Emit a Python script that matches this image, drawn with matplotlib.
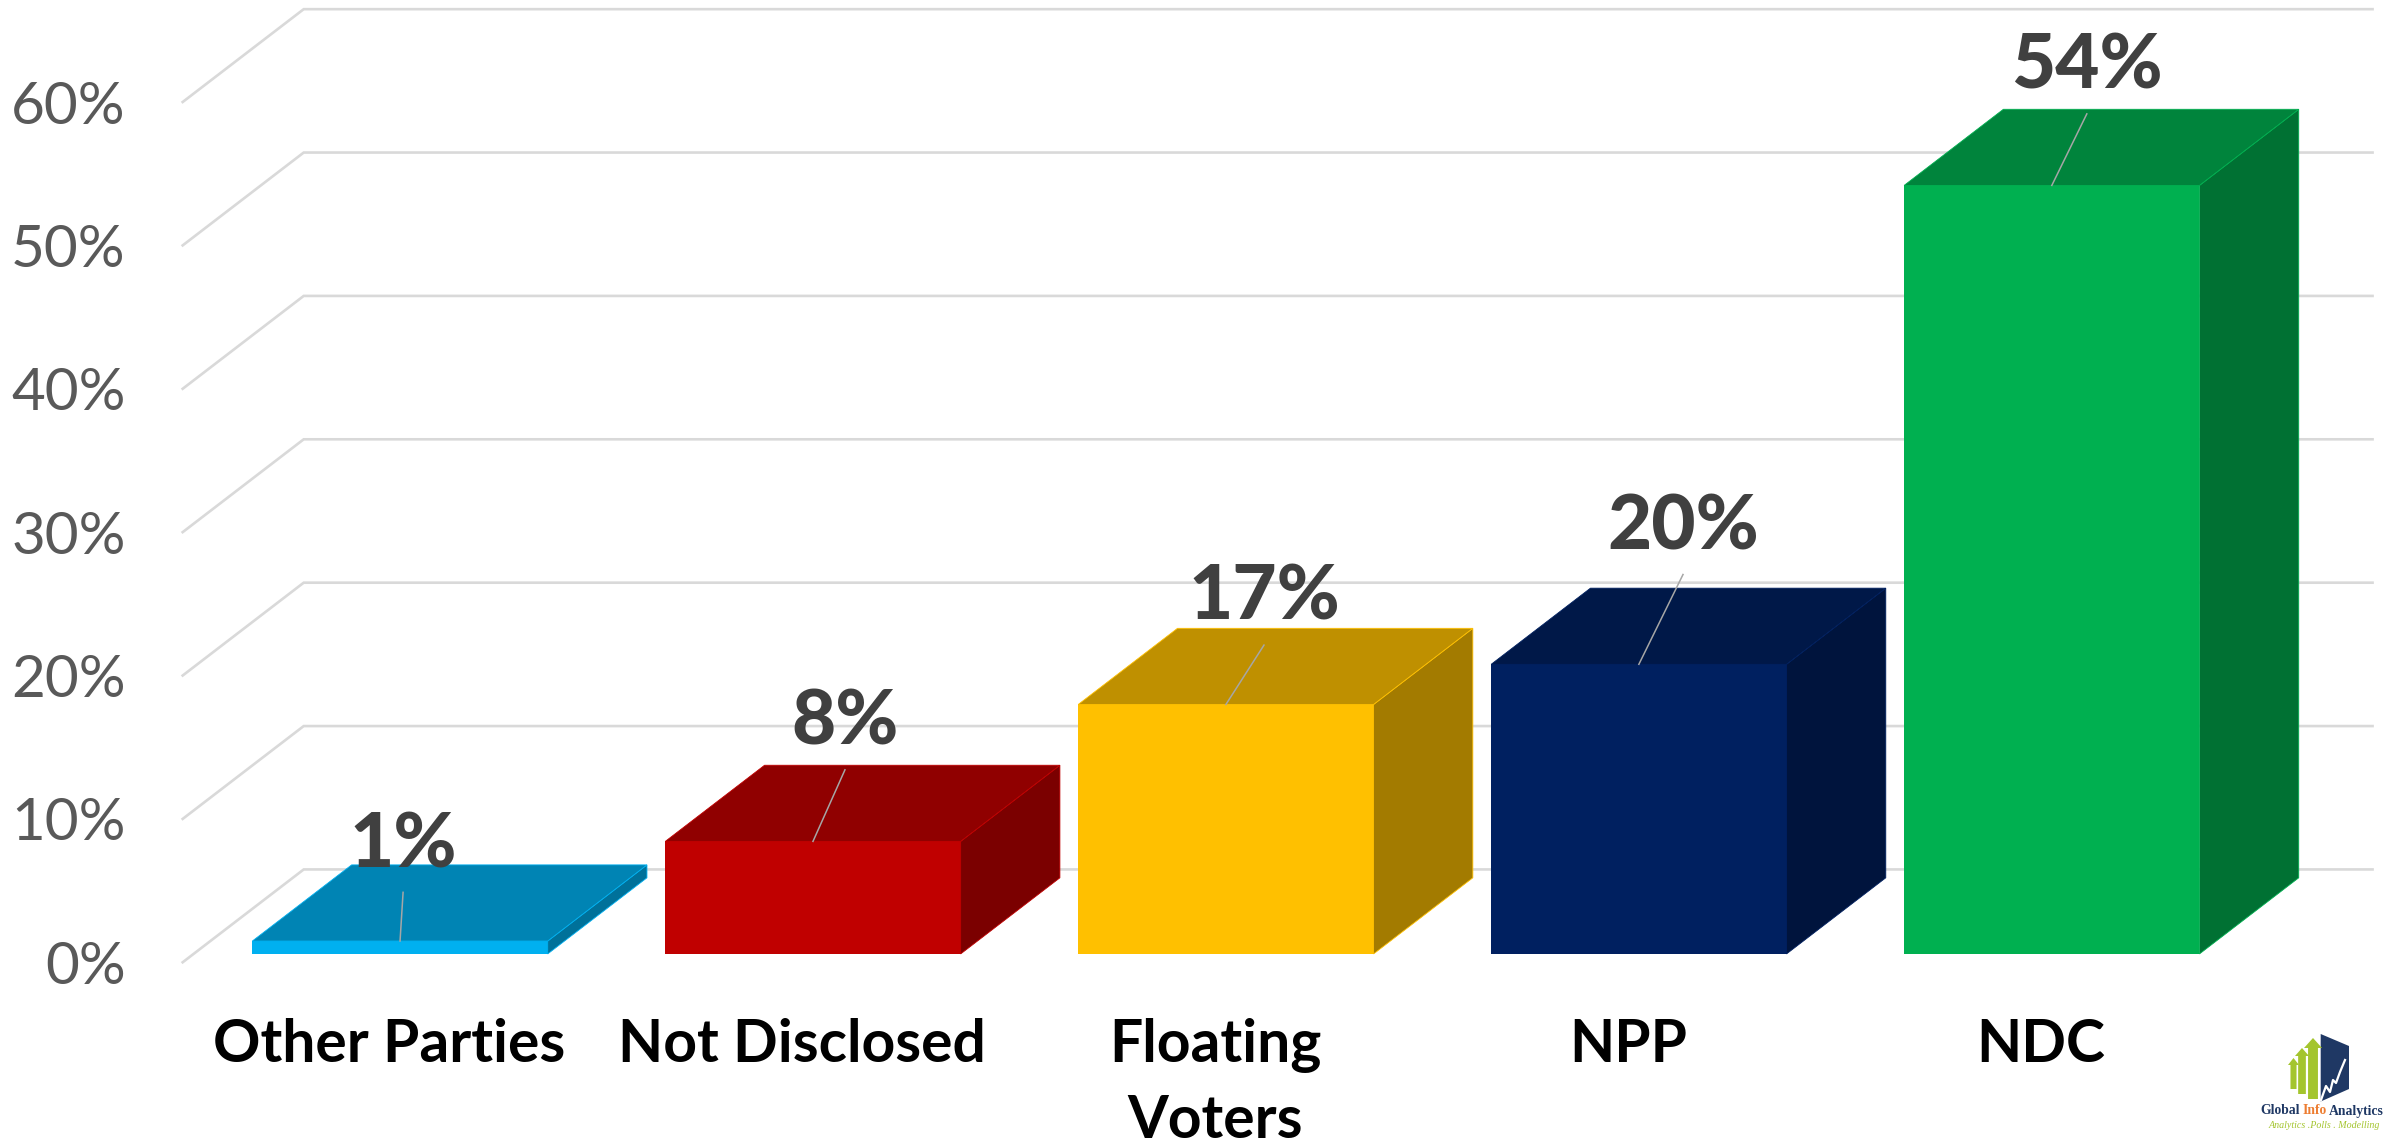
import matplotlib
matplotlib.use('Agg')
import matplotlib.pyplot as plt
import numpy as np
from matplotlib.colors import to_rgb
from matplotlib.patches import Polygon

categories = ['Other Parties', 'Not Disclosed', 'Floating\nVoters', 'NPP', 'NDC']
values = [0.9, 7.85, 17.4, 20.2, 53.6]
colors = ['#00B0F0', '#C00000', '#FFC000', '#002060', '#00B050']
y_ticks = [0, 10, 20, 30, 40, 50, 60]

W, H = 2387, 1145
CAT_PX = 271.25                 # shrunk px per category
PCT_PX = 9.42                   # shrunk px per percent
FLOOR_DX = 79.5 / CAT_PX        # oblique depth of the chart floor
FLOOR_DY = 61 / PCT_PX
BAR_HALF = 97 / CAT_PX
D0, D1 = 0.09, 0.91             # bar front/back, as fraction of floor depth

# label leader ends, shrunk px from bar top-front centre
leader_off = [(2, 32), (21, 47), (25, 39), (29, 59), (23, 47)]
LABEL_GAP = 31

plt.rcParams['font.family'] = ['Lato', 'DejaVu Sans']
fig = plt.figure(figsize=(W / 100, H / 100), dpi=100, facecolor='white')
ax = fig.add_axes([120 / 1568, (752 - 632) / 752, (1479 - 120) / 1568,
                   (632 - 67) / 752])
ax.set_xlim(-0.5, 4.51)
ax.set_ylim(0, 60)
ax.patch.set_alpha(0)
for s in ax.spines.values():
    s.set_visible(False)


def proj(cat, pct, depth):
    return cat + depth * FLOOR_DX, pct + depth * FLOOR_DY


def shade(col, f):
    return tuple(c * f for c in to_rgb(col))


# gridlines: side wall then back wall
x_end = ax.get_xlim()[1]
for t in y_ticks:
    x0, y0 = proj(-0.5, t, 0)
    x1, y1 = proj(-0.5, t, 1)
    x2, y2 = proj(x_end, t, 1)
    ax.plot([x0, x1, x2], [y0, y1, y2], color='#D9D9D9', lw=1.9,
            clip_on=False, zorder=1, solid_joinstyle='miter')

for i, (v, col) in enumerate(zip(values, colors)):
    l, r = i - BAR_HALF, i + BAR_HALF
    front = [proj(l, 0, D0), proj(r, 0, D0), proj(r, v, D0), proj(l, v, D0)]
    top = [proj(l, v, D0), proj(r, v, D0), proj(r, v, D1), proj(l, v, D1)]
    side = [proj(r, 0, D0), proj(r, 0, D1), proj(r, v, D1), proj(r, v, D0)]
    ax.add_patch(Polygon(front, fc=col, ec='none', clip_on=False, zorder=3))
    ax.add_patch(Polygon(side, fc=shade(col, 0.64), ec=col, lw=0.6,
                         clip_on=False, zorder=3))
    ax.add_patch(Polygon(top, fc=shade(col, 0.75), ec=col, lw=0.6,
                         clip_on=False, zorder=3))
    # leader and value label
    cx, cy = proj(i, v, D0)
    dx, dy = leader_off[i]
    ex, ey = cx + dx / CAT_PX, cy + dy / PCT_PX
    ax.plot([cx, ex], [cy, ey], color='#A6A6A6', lw=1.1, clip_on=False, zorder=4)
    ax.text(ex, ey + LABEL_GAP / PCT_PX, f'{v:.0f}%', ha='center', va='center',
            fontsize=55, fontweight='black', color='#404040', zorder=5,
            clip_on=False)

ax.set_yticks(y_ticks)
ax.set_yticklabels([f'{t}%' for t in y_ticks], fontsize=42, color='#595959')
ax.set_xticks(range(len(categories)))
ax.set_xticklabels(categories, fontsize=42.3, fontweight='bold', color='black',
                   linespacing=1.49)
ax.tick_params(axis='y', length=0, pad=41)
ax.tick_params(axis='x', length=0, pad=40)

# logo, in full-size pixel coordinates
lg = fig.add_axes([2200 / W, 0, 187 / W, 145 / H])
lg.set_xlim(2200, 2387)
lg.set_ylim(1145, 1000)
lg.axis('off')
lg.add_patch(Polygon([(2320.7, 1034), (2349, 1046), (2349, 1089), (2320.7, 1101.5)],
                     fc='#1F3864', ec='none'))
for xc, half, tip, base, bottom in [(2293.5, 5.5, 1058, 1065, 1089),
                                    (2302, 7, 1048, 1056, 1094),
                                    (2313, 9, 1038, 1048, 1099)]:
    w = half * 0.55
    lg.add_patch(Polygon([(xc, tip), (xc + half, base), (xc + w, base),
                          (xc + w, bottom), (xc - w, bottom), (xc - w, base),
                          (xc - half, base)], fc='#A4C52E', ec='none'))
lg.plot([2321, 2326, 2330, 2333, 2336, 2340, 2345],
        [1100, 1086, 1092, 1080, 1083, 1072, 1060], color='white', lw=1.6)
for x, s, c in [(2260, 'Global', '#1F3864'), (2303, 'Info', '#ED7D31'),
                (2329, 'Analytics', '#1F3864')]:
    lg.text(x, 1111, s, fontsize=9.8, fontweight='bold', color=c, va='center',
            family='Liberation Serif')
lg.text(2269, 1126, 'Analytics .Polls . Modelling', fontsize=7.2, style='italic',
        color='#A4C52E', va='center', family='Liberation Serif')

fig.savefig('out.png', dpi=100, facecolor='white')
